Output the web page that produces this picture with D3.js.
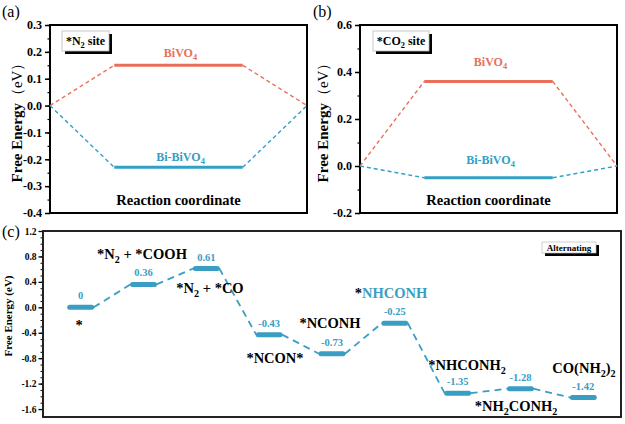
<!DOCTYPE html>
<html><head><meta charset="utf-8">
<script src="https://cdn.jsdelivr.net/npm/d3@7"></script>
<style>body{margin:0;background:#fff}svg{display:block}</style>
</head><body>
<svg id="c" width="625" height="424" font-family="Liberation Serif" font-weight="bold"></svg>
<script>
// Panel (a) *N2 site
const aSteps = [0, 1, 3, 4];
const aBiVO4 = [0, 0.15, 0.15, 0];
const aBiBiVO4 = [0, -0.23, -0.23, 0];
const aTicks = [0.3, 0.2, 0.1, 0.0, -0.1, -0.2, -0.3, -0.4];
// Panel (b) *CO2 site
const bBiVO4 = [0, 0.36, 0.36, 0];
const bBiBiVO4 = [0, -0.05, -0.05, 0];
const bTicks = [0.6, 0.4, 0.2, 0.0, -0.2];
// Panel (c) alternating pathway
const cEnergies = [0, 0.36, 0.61, -0.43, -0.73, -0.25, -1.35, -1.28, -1.42];
const cValueLabels = ["0", "0.36", "0.61", "-0.43", "-0.73", "-0.25", "-1.35", "-1.28", "-1.42"];
const cTicks = [1.2, 0.8, 0.4, 0.0, -0.4, -0.8, -1.2, -1.6];

const FONT = "Liberation Serif";
const RED = "#e8705a", BLUE = "#31a0c6", TEAL = "#3a9ec3";
const svg = d3.select("#c");

function richText(g, x, y, parts, size, anchor, fill) {
  const t = g.append("text").attr("x", x).attr("y", y).attr("font-size", size)
    .attr("font-family", FONT).attr("font-weight", "bold")
    .attr("text-anchor", anchor || "middle").attr("fill", fill || "#000");
  parts.forEach(p => {
    if (typeof p === "string") t.append("tspan").text(p);
    else {
      const ts = t.append("tspan").text(p.t);
      if (p.sub) ts.attr("font-size", size * 0.7).attr("dy", size * 0.25);
      if (p.up) ts.attr("dy", -size * 0.25);
      if (p.fill) ts.attr("fill", p.fill);
    }
  });
  return t;
}
function fmt1(d){ return d.toFixed(1); }
function styleTicks(s, size) {
  s.attr("font-family", FONT);
  s.selectAll("text").attr("font-size", size).attr("font-family", FONT).attr("font-weight", "bold").attr("fill", "#000");
}

function energyPanel(opt) {
  const g = svg.append("g");
  const x = d3.scaleLinear().domain([0, 4]).range([opt.x0, opt.x1]);
  const y = d3.scaleLinear().domain(opt.dom).range([opt.y1, opt.y0]);
  const minor = [];
  for (let v = opt.dom[0]; v <= opt.dom[1] + 1e-9; v += opt.minorStep) minor.push(+v.toFixed(3));
  g.append("g").attr("transform", `translate(${opt.x0},0)`)
    .call(d3.axisLeft(y).tickValues(minor).tickSize(2.5).tickFormat(""))
    .call(s => s.select(".domain").remove()).selectAll("line").attr("stroke-width", 1.2);
  g.append("g").attr("transform", `translate(${opt.x0},0)`)
    .call(d3.axisLeft(y).tickValues(opt.ticks).tickSize(5).tickPadding(3).tickFormat(fmt1))
    .call(s => s.select(".domain").remove())
    .call(s => s.selectAll("line").attr("stroke-width", 1.5))
    .call(s => styleTicks(s, 12));
  g.append("rect").attr("x", opt.x0).attr("y", opt.y0).attr("width", opt.x1 - opt.x0).attr("height", opt.y1 - opt.y0)
    .attr("fill", "none").attr("stroke", "#000").attr("stroke-width", 2);
  [[opt.red, RED], [opt.blue, BLUE]].forEach(([vals, col]) => {
    const pts = aSteps.map((s, i) => [x(s), y(vals[i])]);
    g.append("line").attr("x1", pts[0][0]).attr("y1", pts[0][1]).attr("x2", pts[1][0]).attr("y2", pts[1][1])
      .attr("stroke", col).attr("stroke-width", 1.4).attr("stroke-dasharray", "4,3");
    g.append("line").attr("x1", pts[2][0]).attr("y1", pts[2][1]).attr("x2", pts[3][0]).attr("y2", pts[3][1])
      .attr("stroke", col).attr("stroke-width", 1.4).attr("stroke-dasharray", "4,3");
    g.append("line").attr("x1", pts[1][0]).attr("y1", pts[1][1]).attr("x2", pts[2][0]).attr("y2", pts[2][1])
      .attr("stroke", col).attr("stroke-width", 3);
  });
  const cx = (opt.x0 + opt.x1) / 2;
  richText(g, cx + 2, opt.redLabelY, ["BiVO", {t: "4", sub: true}], 12, "middle", RED);
  richText(g, cx + 2, opt.blueLabelY, ["Bi-BiVO", {t: "4", sub: true}], 12, "middle", BLUE);
  richText(g, cx, opt.y0 + 180, ["Reaction coordinate"], 14.5, "middle", "#000");
  // inset box
  g.append("rect").attr("x", opt.bx + 3).attr("y", opt.y0 + 9).attr("width", opt.bw).attr("height", 20).attr("fill", "#000");
  g.append("rect").attr("x", opt.bx).attr("y", opt.y0 + 6).attr("width", opt.bw).attr("height", 20).attr("fill", "#fff").attr("stroke", "#bbb").attr("stroke-width", 0.8);
  richText(g, opt.bx + opt.bw / 2, opt.y0 + 20, opt.site, 12, "middle", "#000");
  // y title
  const t = g.append("text").attr("transform", `translate(${opt.titleX},${(opt.y0 + opt.y1) / 2}) rotate(-90)`)
    .attr("text-anchor", "middle").attr("font-size", 15).attr("font-family", FONT).attr("font-weight", "bold");
  t.append("tspan").text("Free Energy");
  t.append("tspan").attr("font-weight", "normal").text("（eV）");
  svg.append("text").attr("x", opt.plx).attr("y", 17).attr("font-size", 16).attr("font-family", FONT).attr("font-weight", "normal").text(opt.pl);
}

energyPanel({x0: 50, x1: 307, y0: 25, y1: 213, dom: [-0.4, 0.3], minorStep: 0.05, ticks: aTicks,
  red: aBiVO4, blue: aBiBiVO4, redLabelY: 57, blueLabelY: 161, bx: 62, bw: 47,
  site: ["*N", {t: "2", sub: true}, {t: " site", up: true}], titleX: 22, plx: 2, pl: "(a)"});
energyPanel({x0: 360, x1: 617, y0: 25, y1: 213, dom: [-0.2, 0.6], minorStep: 0.1, ticks: bTicks,
  red: bBiVO4, blue: bBiBiVO4, redLabelY: 66, blueLabelY: 164, bx: 373, bw: 56,
  site: ["*CO", {t: "2", sub: true}, {t: " site", up: true}], titleX: 328, plx: 313, pl: "(b)"});

// Panel (c)
(function(){
  const x0 = 43, x1 = 621, y0 = 231, y1 = 417;
  const g = svg.append("g");
  const x = d3.scaleLinear().domain([-0.6, 8.6]).range([x0, x1]);
  const y = d3.scaleLinear().domain([-1.725, 1.2]).range([y1, y0]);
  const minor = d3.range(-1.6, 1.21, 0.1).map(v => +v.toFixed(2));
  g.append("g").attr("transform", `translate(${x0},0)`)
    .call(d3.axisLeft(y).tickValues(minor).tickSize(2.5).tickFormat(""))
    .call(s => s.select(".domain").remove()).selectAll("line").attr("stroke-width", 1);
  g.append("g").attr("transform", `translate(${x0},0)`)
    .call(d3.axisLeft(y).tickValues(cTicks).tickSize(4.5).tickPadding(2).tickFormat(fmt1))
    .call(s => s.select(".domain").remove())
    .call(s => s.selectAll("line").attr("stroke-width", 1.3))
    .call(s => styleTicks(s, 9.5));
  g.append("rect").attr("x", x0).attr("y", y0).attr("width", x1 - x0).attr("height", y1 - y0)
    .attr("fill", "none").attr("stroke", "#222").attr("stroke-width", 2);
  const hw = 13;
  for (let i = 0; i < cEnergies.length - 1; i++) {
    g.append("line").attr("x1", x(i) + hw).attr("y1", y(cEnergies[i])).attr("x2", x(i + 1) - hw).attr("y2", y(cEnergies[i + 1]))
      .attr("stroke", TEAL).attr("stroke-width", 1.8).attr("stroke-dasharray", "7,5");
  }
  cEnergies.forEach((e, i) => {
    g.append("line").attr("x1", x(i) - hw + 2).attr("x2", x(i) + hw - 2).attr("y1", y(e)).attr("y2", y(e))
      .attr("stroke", TEAL).attr("stroke-width", 5).attr("stroke-linecap", "round");
    richText(g, x(i), y(e) - 8, [cValueLabels[i]], 10.5, "middle", TEAL);
  });
  const fs = 14.5;
  richText(g, 79, 330, ["*"], fs);
  richText(g, 142, 259, ["*N", {t: "2", sub: true}, {t: " + *COOH", up: true}], fs);
  richText(g, 210, 293, ["*N", {t: "2", sub: true}, {t: " + *CO", up: true}], fs);
  richText(g, 275, 363, ["*NCON*"], fs);
  richText(g, 330, 328, ["*NCONH"], fs);
  richText(g, 391, 298, ["*", {t: "NHCONH", fill: TEAL}], fs);
  richText(g, 467, 370, ["*NHCONH", {t: "2", sub: true}], fs);
  richText(g, 516, 411, ["*NH", {t: "2", sub: true}, {t: "CONH", up: true}, {t: "2", sub: true}], fs);
  richText(g, 584, 373, ["CO(NH", {t: "2", sub: true}, {t: ")", up: true}, {t: "2", sub: true}], fs);
  // Alternating box
  g.append("rect").attr("x", 545).attr("y", 245).attr("width", 54).attr("height", 11).attr("fill", "#000");
  g.append("rect").attr("x", 542).attr("y", 242).attr("width", 54).attr("height", 11).attr("fill", "#fff").attr("stroke", "#bbb").attr("stroke-width", 0.7);
  richText(g, 569, 250.5, ["Alternating"], 9, "middle", "#000");
  g.append("text").attr("transform", `translate(12,${(y0 + y1) / 2 - 8}) rotate(-90)`)
    .attr("text-anchor", "middle").attr("font-size", 11).attr("font-family", FONT).attr("font-weight", "bold").text("Free Energy (eV)");
  svg.append("text").attr("x", 2).attr("y", 237).attr("font-size", 16).attr("font-family", FONT).attr("font-weight", "normal").text("(c)");
})();
</script>
</body></html>
